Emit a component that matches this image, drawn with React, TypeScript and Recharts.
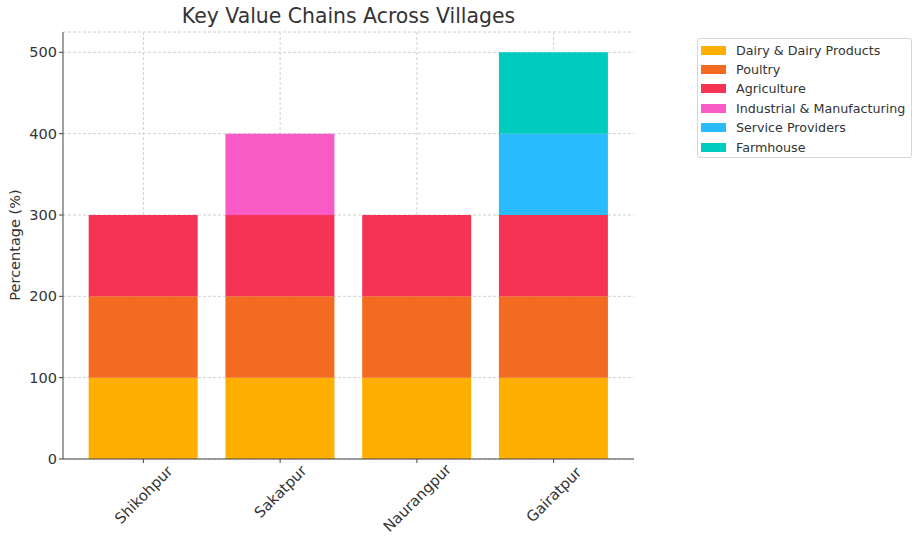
import React from 'react'
import { BarChart, Bar, XAxis, YAxis, CartesianGrid } from 'recharts'

const villages = ['Shikohpur', 'Sakatpur', 'Naurangpur', 'Gairatpur']
const dairy = [100, 100, 100, 100]
const poultry = [100, 100, 100, 100]
const agriculture = [100, 100, 100, 100]
const industrial = [0, 100, 0, 0]
const service = [0, 0, 0, 100]
const farmhouse = [0, 0, 0, 100]
const yTicks = [0, 100, 200, 300, 400, 500]

const series = [
  { key: 'dairy', name: 'Dairy & Dairy Products', color: '#ffaf00', values: dairy },
  { key: 'poultry', name: 'Poultry', color: '#f26b21', values: poultry },
  { key: 'agriculture', name: 'Agriculture', color: '#f43355', values: agriculture },
  { key: 'industrial', name: 'Industrial & Manufacturing', color: '#f95bc6', values: industrial },
  { key: 'service', name: 'Service Providers', color: '#29bbfc', values: service },
  { key: 'farmhouse', name: 'Farmhouse', color: '#00cbbf', values: farmhouse },
]

const data = villages.map((v, i) => {
  const row: Record<string, string | number> = { village: v }
  series.forEach(s => { row[s.key] = s.values[i] })
  return row
})

const FONT = '"DejaVu Sans", sans-serif'
const X_PAD = 12

function XTick({ x, y, payload }: any) {
  const label = String(payload.value)
  const len = label.length * 9
  const cy = y - 3 + ((len + 11) * 0.707) / 2
  return (
    <text
      x={x} y={cy}
      transform={`rotate(-45 ${x} ${cy})`}
      textAnchor="middle" dominantBaseline="central"
      fontSize={14.8} fill="#333" fontFamily={FONT}
    >{label}</text>
  )
}

// vertical grid only at the category centres (no edge lines)
function vGrid({ offset }: any) {
  const band = (offset.width - 2 * X_PAD) / villages.length
  return villages.map((_, i) => offset.left + X_PAD + band * (i + 0.5))
}

export default function App() {
  return (
    <div style={{ position: 'absolute', left: 0, top: 0, width: 921, height: 548, background: '#fff', fontFamily: FONT }}>
      <div style={{ position: 'absolute', left: 63, width: 571, top: 4, textAlign: 'center', fontSize: 20.4, color: '#333' }}>
        Key Value Chains Across Villages
      </div>
      <div style={{
        position: 'absolute', left: 15, top: 245, fontSize: 14.5, color: '#333',
        transform: 'translate(-50%, -50%) rotate(-90deg)', whiteSpace: 'nowrap',
      }}>
        Percentage (%)
      </div>
      <BarChart
        width={921} height={548} data={data}
        margin={{ top: 32, right: 287, bottom: 0, left: 0 }}
        barCategoryGap="10%"
      >
        <XAxis
          dataKey="village" height={89} padding={{ left: X_PAD, right: X_PAD }}
          tick={<XTick />} tickSize={4} interval={0}
          axisLine={{ stroke: '#444' }} tickLine={{ stroke: '#444' }}
        />
        <YAxis
          width={63} domain={[0, 525]} ticks={yTicks} tickSize={4}
          tick={{ fontSize: 14.5, fill: '#333', fontFamily: FONT }}
          axisLine={{ stroke: '#444' }} tickLine={{ stroke: '#444' }}
        />
        {series.map(s => (
          <Bar key={s.key} dataKey={s.key} name={s.name} stackId="a" fill={s.color} isAnimationActive={false} />
        ))}
        <CartesianGrid stroke="#d0d0d0" strokeDasharray="3 2" verticalCoordinatesGenerator={vGrid} />
      </BarChart>
      <div style={{
        position: 'absolute', left: 697, top: 38, width: 215, height: 120,
        border: '1px solid #d6d6d6', borderRadius: 3, boxSizing: 'border-box',
      }}>
        {series.map((s, i) => (
          <div key={s.key} style={{ position: 'absolute', left: 3, top: 4 + i * 19.4, height: 14, display: 'flex', alignItems: 'center' }}>
            <div style={{ width: 25, height: 9, background: s.color }} />
            <span style={{ marginLeft: 10, fontSize: 12.7, color: '#333', whiteSpace: 'nowrap' }}>{s.name}</span>
          </div>
        ))}
      </div>
    </div>
  )
}
